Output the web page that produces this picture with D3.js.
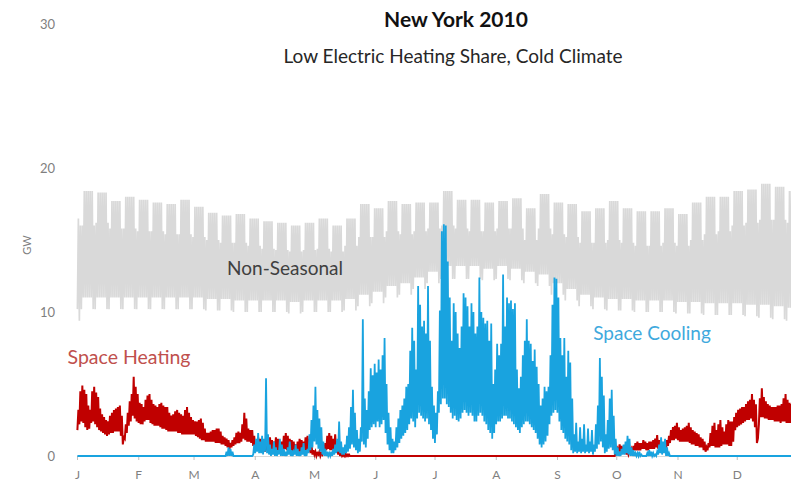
<!DOCTYPE html>
<html>
<head>
<meta charset="utf-8">
<script src="https://cdn.jsdelivr.net/npm/d3@7"></script>
<style>
  body { margin: 0; background: #fff; }
  svg { display: block; }
  text { font-family: Lato, "Open Sans", sans-serif; }
</style>
</head>
<body>
<script>
const months = ["J", "F", "M", "A", "M", "J", "J", "A", "S", "O", "N", "D"];
const yTicks = [0, 10, 20, 30];

// Non-Seasonal, one value per calendar week (weeks run Sun-Sat, week 0 holds Jan 1-2)
const nsWeekdayPeak = [16.5,18.4,18.3,17.7,18.0, 17.8,17.6,17.5,17.8, 17.3,16.9,16.7,16.8,16.5,
  16.3,16.2,16.0,16.2, 16.5,16.0,16.5,17.5, 17.2,17.7,17.5,17.6, 17.6,18.4,17.8,17.8,17.6,
  17.7,17.9,17.2,18.2, 17.6,17.5,17.0,17.2, 17.7,17.2,17.0,17.0,17.2, 16.8,17.6,18.0,18.0,
  18.4,18.5,18.9,18.7,18.4];
const nsWeekendPeak = [16.0,16.0,16.2,15.8,15.8, 15.6,15.6,15.4,15.4, 15.2,15.0,14.8,14.8,14.6,
  14.4,14.3,14.2,14.3, 14.4,14.2,14.6,15.2, 15.2,15.6,15.4,15.6, 15.8,16.0,15.8,15.6,15.6,
  15.8,15.8,15.0,15.8, 15.4,15.2,14.8,14.8, 15.0,14.8,14.6,14.6,14.8, 14.6,15.0,15.4,15.6,
  16.0,16.2,16.4,16.4,16.2];
const nsWeekdayLow = [10.2,11.0,11.0,11.0,11.0, 11.0,11.0,11.0,11.0, 11.0,10.9,10.9,10.8,10.8,
  10.8,10.8,10.7,10.8, 10.8,10.8,10.9,11.2, 11.4,11.8,12.0,12.4, 12.8,13.2,13.2,13.2,13.0,
  13.2,13.0,12.8,12.6, 12.0,11.6,11.2,11.0, 10.9,10.9,10.8,10.8,10.8, 10.7,10.7,10.6,10.6,
  10.6,10.5,10.5,10.4,10.3];
const nsWeekendLow = [9.4,10.2,10.2,10.2,10.2, 10.2,10.2,10.2,10.2, 10.2,10.1,10.1,10.0,10.0,
  10.0,10.0,9.9,10.0, 10.0,10.0,10.1,10.4, 10.6,11.0,11.2,11.6, 12.0,12.3,12.3,12.3,12.2,
  12.3,12.2,12.0,11.8, 11.2,10.8,10.4,10.2, 10.1,10.1,10.0,10.0,10.0, 9.9,9.9,9.8,9.8,
  9.8,9.7,9.6,9.5,9.4];

// Space Heating, daily high / low, days 0-137
const heatWinterHi = [3.2,4.5,4.9,4.6,4.3,3.5,3.2,4.5,4.8,4.4, 4.1,3.3,2.9,2.7,2.5,2.4,2.8,3.0,3.2,3.3,
  3.4,3.5,2.8,1.3,2.2,3.0,3.8,4.3,5.5,4.8, 4.3,3.7,3.6,3.4,3.9,4.2,4.3,3.9,3.6,3.5,
  3.4,3.6,3.7,3.5,3.4,3.4,3.0,2.8,2.9,3.1, 3.2,3.0,2.9,2.8,3.2,3.4,3.0,2.7,2.5,2.4,
  2.4,2.5,2.6,2.3,1.9,1.6,1.6,1.7,1.8,1.8, 1.9,1.9,1.7,1.4,1.3,1.2,1.1,0.9,1.1,1.3,
  1.6,1.7,1.6,2.2,3.0,2.6,1.9,1.8,1.8,1.4, 0.9,1.3,1.2,1.0,1.1,0.9,1.2,1.3,1.1,1.0,
  1.3,1.2,0.9,1.0,1.4,1.6,1.4,1.2,1.1,1.0, 0.8,1.0,1.2,1.1,1.0,1.3,1.4,1.2,0.8,0.4,
  0.3,0.2,0.3,0.2,0.4,0.9,1.4,1.6,1.4,1.2, 1.5,1.0,0.4,0.2,0.1,0.2,0.1,0.1];
const heatWinterLo = [1.8,2.2,2.4,2.3,2.0,1.8,1.9,2.3,2.4,2.2, 2.0,1.8,1.7,1.6,1.5,1.4,1.5,1.6,1.6,1.7,
  1.7,1.7,1.4,0.8,1.2,1.6,2.1,2.4,2.8,2.6, 2.4,2.3,2.2,2.2,2.4,2.5,2.5,2.3,2.2,2.1,
  2.1,2.1,2.0,1.9,1.9,1.8,1.7,1.7,1.7,1.7, 1.7,1.6,1.6,1.5,1.5,1.5,1.5,1.5,1.5,1.5,
  1.4,1.3,1.2,1.1,1.1,1.0,1.0,1.0,1.0,1.0, 0.9,0.9,0.9,0.8,0.8,0.7,0.6,0.5,0.6,0.7,
  0.8,0.9,0.9,1.0,1.2,1.1,1.0,1.0,0.9,0.7, 0.6,0.4,0.4,0.3,0.3,0.3,0.4,0.4,0.3,0.3,
  0.4,0.3,0.3,0.3,0.4,0.5,0.4,0.3,0.3,0.3, 0.2,0.2,0.3,0.3,0.3,0.3,0.4,0.3,0.2,0.1,
  0.1,0,0.1,0,0.1,0.3,0.4,0.5,0.4,0.4, 0.4,0.3,0.1,0,0,0,0,0];
// Space Heating, daily high / low, days 272-364
const heatFallHi = [0.2,0.5,0.8,0.7,0.6,0.5,0.4,0.3,0.5,0.7, 0.9,1.0,0.9,0.9,1.1,1.0,0.9,1.0,1.0,1.1,
  1.2,1.45,1.1,0.9,0.9,1.0,1.1,1.4,1.8,2.0, 2.1,2.3,2.0,1.8,1.9,2.0,2.1,2.3,2.0,1.8,
  1.7,1.6,1.5,1.3,1.2,1.0,0.6,0.9,1.6,2.1, 2.3,1.8,2.2,2.5,2.0,1.7,2.2,2.5,2.4,2.4,
  2.7,3.0,3.2,3.3,3.4,3.4,3.6,3.8,3.9,4.3, 3.9,3.6,1.2,4.0,4.7,4.1,3.8,3.6,3.5,3.4,
  3.4,3.4,3.5,3.5,3.6,4.0,4.3,3.9,3.7,3.6, 3.4,3.2,3.3];
const heatFallLo = [0,0.2,0.3,0.3,0.2,0.2,0.1,0.1,0.2,0.3, 0.4,0.4,0.4,0.4,0.5,0.5,0.4,0.4,0.5,0.5,
  0.5,0.6,0.5,0.4,0.4,0.4,0.5,0.7,0.9,1.1, 1.1,1.2,1.1,1.0,1.0,1.0,1.0,1.0,0.9,0.8,
  0.8,0.7,0.7,0.6,0.6,0.4,0.3,0.4,0.6,0.7, 0.7,0.6,0.6,0.6,0.7,0.8,0.8,0.8,0.7,0.7,
  1.0,1.8,2.0,2.1,2.2,2.3,2.4,2.5,2.5,2.6, 2.4,2.0,0.9,2.2,2.7,2.7,2.6,2.6,2.5,2.5,
  2.5,2.4,2.4,2.4,2.3,2.4,2.4,2.3,2.3,2.3, 2.2,2.2,2.2];

// Space Cooling, daily high / low, days 74-300
const coolHi = [0,0.3,0.6,0.5,0.3,0,0,0,0,0, 0,0,0,0,0,0.8,1.2,1.6,1.0,1.4,
  1.2,5.4,1.5,0.8,0.5,1.0,0.6,0.4,1.2,0.8, 0.5,0.3,0.6,1.0,0.4,0.3,0.8,0.5,0.3,0.6,
  0.9,0.4,0.5,1.5,2.5,3.5,4.8,3.2,2.6,2.0, 1.0,0.5,0.3,0.2,0.3,0.5,0.8,1.2,2.4,1.0,
  0.6,0.8,1.4,2.0,3.4,4.6,3.0,1.8,1.2,2.0, 9.5,4.0,3.2,4.5,6.1,5.6,6.4,5.8,6.7,6.0,
  7.0,8.2,5.0,3.0,2.0,1.2,1.0,2.0,2.6,3.2, 3.5,4.0,4.8,5.0,7.3,8.9,8.0,6.0,11.8,10.5,
  9.0,9.4,8.5,11.8,8.0,4.8,3.5,3.0,4.5,10.1, 15.6,16.1,16.0,13.5,11.0,8.0,10.6,10.0,8.5,7.5,
  9.0,11.3,11.0,10.4,9.0,10.6,10.0,8.5,9.0,12.4, 10.0,9.6,9.2,9.4,8.0,9.2,5.0,6.0,7.8,7.0,
  7.8,12.6,9.0,11.0,10.6,10.8,10.2,10.6,6.0,4.7, 5.5,7.0,8.0,9.5,8.0,7.8,6.6,7.4,6.2,5.0,
  3.5,4.0,4.8,4.5,4.8,7.0,10.5,12.4,12.3,11.0, 8.2,7.0,8.2,5.5,7.3,6.5,4.0,1.5,2.3,1.0,
  2.0,1.2,2.2,0.8,1.9,1.0,1.8,0.8,2.2,3.5, 6.8,5.5,4.2,1.5,2.5,4.0,4.6,2.8,1.2,0.6,
  0.3,0.5,0.8,1.0,1.4,1.2,0.6,0.4,0.2,0.2, 0.3,0.1,0,0,0.2,0.4,0.3,0.2,0.1,0.3,
  0.8,1.3,1.0,1.2,0.6,0.2,0];
const coolLo = [0,0,0,0,0,0,0,0,0,0, 0,0,0,0,0,0.1,0.2,0.3,0.2,0.2,
  0.1,0.3,0.2,0.1,0,0.1,0,0,0.1,0, 0,0,0,0.1,0,0,0.1,0,0,0,
  0.1,0,0,0.2,0.4,0.6,1.0,0.8,0.5,0.3, 0.1,0,0,0,0,0,0.1,0.2,0.3,0.2,
  0.1,0.1,0.2,0.3,0.5,0.8,0.6,0.4,0.2,0.3, 1.0,0.8,0.6,1.2,1.8,2.0,2.2,2.0,2.4,2.0,
  2.2,2.5,1.6,0.8,0.4,0.2,0.2,0.4,0.6,0.9, 1.2,1.4,1.6,1.8,2.2,2.6,2.4,2.0,2.6,3.0,
  2.8,2.6,2.4,2.6,2.2,1.8,1.2,0.9,1.5,3.0, 3.6,4.0,4.0,3.6,3.4,3.0,2.6,2.8,2.5,2.4,
  2.6,3.0,3.2,3.0,2.8,3.0,2.8,2.4,2.4,2.8, 3.0,2.8,2.4,2.2,1.8,1.6,1.2,1.6,2.2,2.4,
  2.4,2.6,2.8,2.8,2.6,2.6,2.4,2.2,2.0,1.8, 1.6,2.0,2.2,2.4,2.4,2.2,2.0,1.8,1.6,1.2,
  0.8,0.6,0.8,1.0,1.4,2.2,2.8,3.0,3.2,3.0, 2.4,1.8,1.6,1.2,1.0,0.8,0.4,0.2,0.3,0.2,
  0.3,0.2,0.3,0.2,0.3,0.2,0.3,0.1,0.3,0.5, 0.8,1.0,0.6,0.2,0.3,0.5,0.6,0.4,0.1,0,
  0,0,0.1,0.1,0.2,0.1,0,0,0,0, 0,0,0,0,0,0,0,0,0,0,
  0.1,0.2,0.1,0.2,0,0,0];

const width = 791, height = 482;
const days = d3.range(365);

// full-year daily series from the segments above
const ns = days.map(d => {
  const dow = (d + 5) % 7, wk = Math.floor((d + 5) / 7);
  const weekend = dow === 0 || dow === 6;
  return weekend ? [nsWeekendLow[wk], nsWeekendPeak[wk]] : [nsWeekdayLow[wk], nsWeekdayPeak[wk]];
});
const heat = days.map(d => d < 138 ? [heatWinterLo[d], heatWinterHi[d]]
  : d >= 272 ? [heatFallLo[d - 272], heatFallHi[d - 272]] : [0, 0]);
const cool = days.map(d => d >= 74 && d <= 300 ? [coolLo[d - 74], coolHi[d - 74]] : [0, 0]);

// each day: trough then peak
const zigzag = s => s.flatMap(([lo, hi], d) => [[d + 0.2, lo], [d + 0.7, hi]]);

const x = d3.scaleLinear().domain([0, 365]).range([77, 798]);
const xTime = d3.scaleTime().domain([new Date(2010, 0, 1), new Date(2011, 0, 1)]).range([77, 798]);
const y = d3.scaleLinear().domain([0, 30]).range([456, 24]);

const svg = d3.select("body").append("svg")
  .attr("width", width)
  .attr("height", height);

const line = d3.line().x(p => x(p[0])).y(p => y(p[1]));

// x axis, one tick per month of 2010
const xAxis = svg.append("g")
  .attr("transform", `translate(0,${y(0)})`)
  .call(d3.axisBottom(xTime)
    .tickValues(d3.timeMonth.range(new Date(2010, 0, 1), new Date(2011, 0, 1)))
    .tickSize(4)
    .tickPadding(10)
    .tickFormat(d => months[d.getMonth()]));
xAxis.select(".domain").attr("stroke", "#d9d9d9");
xAxis.selectAll(".tick line").attr("stroke", "#bfbfbf");
xAxis.selectAll(".tick text")
  .attr("fill", "#7f7f7f")
  .style("font-size", "12px");

// y axis
const yAxis = svg.append("g")
  .attr("transform", "translate(57,0)")
  .call(d3.axisLeft(y).tickValues(yTicks).tickSize(0).tickPadding(2));
yAxis.select(".domain").remove();
yAxis.selectAll(".tick text")
  .attr("fill", "#7f7f7f")
  .style("font-size", "13px");

svg.append("text")
  .attr("transform", "translate(31,245) rotate(-90)")
  .attr("text-anchor", "middle")
  .attr("fill", "#7f7f7f")
  .style("font-size", "11px")
  .text("GW");

// series
svg.append("path")
  .attr("d", line(zigzag(ns)))
  .attr("fill", "none")
  .attr("stroke", "#d9d9d9")
  .attr("stroke-width", 1.7);

svg.append("path")
  .attr("d", line(zigzag(heat)))
  .attr("fill", "none")
  .attr("stroke", "#c00000")
  .attr("stroke-width", 2);

svg.append("path")
  .attr("d", line(zigzag(cool)))
  .attr("fill", "none")
  .attr("stroke", "#19a3df")
  .attr("stroke-width", 1.8);

// titles and labels
svg.append("text")
  .attr("x", 456).attr("y", 27)
  .attr("text-anchor", "middle")
  .attr("fill", "#111")
  .style("font-size", "21px")
  .style("font-weight", "bold")
  .text("New York 2010");

svg.append("text")
  .attr("x", 453).attr("y", 63)
  .attr("text-anchor", "middle")
  .attr("fill", "#262626")
  .style("font-size", "19px")
  .text("Low Electric Heating Share, Cold Climate");

svg.append("text")
  .attr("x", 285).attr("y", 275)
  .attr("text-anchor", "middle")
  .attr("fill", "#404040")
  .style("font-size", "19px")
  .text("Non-Seasonal");

svg.append("text")
  .attr("x", 129).attr("y", 364)
  .attr("text-anchor", "middle")
  .attr("fill", "#c0504d")
  .style("font-size", "19.5px")
  .text("Space Heating");

svg.append("text")
  .attr("x", 652).attr("y", 340)
  .attr("text-anchor", "middle")
  .attr("fill", "#3fa9dd")
  .style("font-size", "19px")
  .text("Space Cooling");
</script>
</body>
</html>
